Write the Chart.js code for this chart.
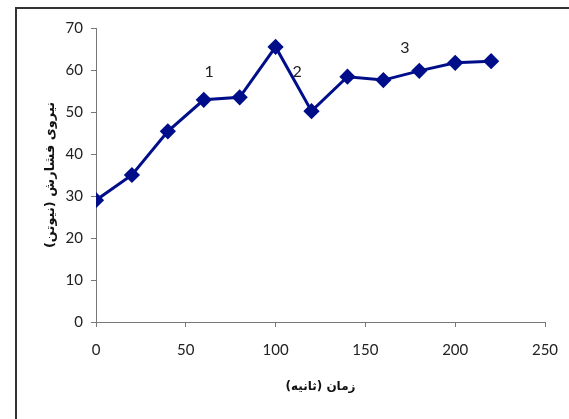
<!DOCTYPE html>
<html>
<head>
<meta charset="utf-8">
<script src="https://cdn.jsdelivr.net/npm/chart.js@4/dist/chart.umd.min.js"></script>
<style>
    html, body { margin: 0; padding: 0; background: #fff; }
    #wrap { width: 569px; height: 419px; }
</style>
</head>
<body>
<div id="wrap"><canvas id="chart"></canvas></div>
<script>
// زمان (ثانیه) و نیروی فشارش
const times = [0, 20, 40, 60, 80, 100, 120, 140, 160, 180, 200, 220];
const forces = [29, 35, 45.4, 52.9, 53.5, 65.5, 50.2, 58.4, 57.6, 59.8, 61.7, 62.1];
const xTicks = [0, 50, 100, 150, 200, 250];
const yTicks = [0, 10, 20, 30, 40, 50, 60, 70];

// شماره‌های روی نمودار
const noteLabels = ['1', '2', '3'];
const noteX = [63, 112, 172];
const noteY = [59.5, 59.5, 65.2];

const frame = {
    id: 'frame',
    afterDraw(chart) {
        const ctx = chart.ctx;
        ctx.save();
        ctx.strokeStyle = '#333';
        ctx.lineWidth = 2;
        ctx.beginPath();
        ctx.moveTo(16, 419);
        ctx.lineTo(16, 8);
        ctx.lineTo(569, 8);
        ctx.stroke();

        // اعداد 1 و 2 و 3
        const xs = chart.scales.x, ys = chart.scales.y;
        ctx.fillStyle = '#222';
        ctx.font = '16px Lato';
        ctx.textAlign = 'center';
        ctx.textBaseline = 'middle';
        noteLabels.forEach((t, i) => {
            ctx.fillText(t, xs.getPixelForValue(noteX[i]), ys.getPixelForValue(noteY[i]));
        });
        ctx.restore();
    }
};

new Chart(document.getElementById('chart'), {
    type: 'line',
    data: {
        datasets: [{
            data: times.map((t, i) => ({ x: t, y: forces[i] })),
            borderColor: '#000e8a',
            backgroundColor: '#000e8a',
            borderWidth: 3,
            pointStyle: 'rectRot',
            pointRadius: 6,
            pointHoverRadius: 6,
            tension: 0
        }]
    },
    options: {
        responsive: true,
        maintainAspectRatio: false,
        animation: false,
        events: [],
        layout: { padding: { top: 28, right: 24, left: 0, bottom: 0 } },
        plugins: {
            legend: { display: false },
            tooltip: { enabled: false }
        },
        scales: {
            x: {
                type: 'linear',
                min: 0,
                max: 250,
                afterBuildTicks: s => { s.ticks = xTicks.map(v => ({ value: v })); },
                afterFit: s => { s.height = 97; s.paddingLeft = 0; s.paddingRight = 0; },
                ticks: { color: '#222', font: { family: 'Lato', size: 15 }, padding: 14, maxRotation: 0 },
                grid: { drawOnChartArea: false, drawTicks: true, tickLength: 5, color: '#777' },
                border: { display: true, color: '#777', width: 1 },
                title: {
                    display: true,
                    text: 'زمان (ثانیه)',
                    color: '#111',
                    font: { family: 'DejaVu Sans', size: 12, weight: 'bold' },
                    padding: { top: 25, bottom: 25 }
                }
            },
            y: {
                min: 0,
                max: 70,
                afterBuildTicks: s => { s.ticks = yTicks.map(v => ({ value: v })); },
                afterFit: s => { s.width = 96; },
                ticks: { color: '#222', font: { family: 'Lato', size: 15 }, padding: 8 },
                grid: { drawOnChartArea: false, drawTicks: true, tickLength: 5, color: '#777' },
                border: { display: true, color: '#777', width: 1 },
                title: {
                    display: true,
                    text: 'نیروی فشارش (نیوتن)',
                    color: '#111',
                    font: { family: 'DejaVu Sans', size: 13, weight: 'bold' },
                    padding: { top: 43, bottom: 43 }
                }
            }
        }
    },
    plugins: [frame]
});
</script>
</body>
</html>
